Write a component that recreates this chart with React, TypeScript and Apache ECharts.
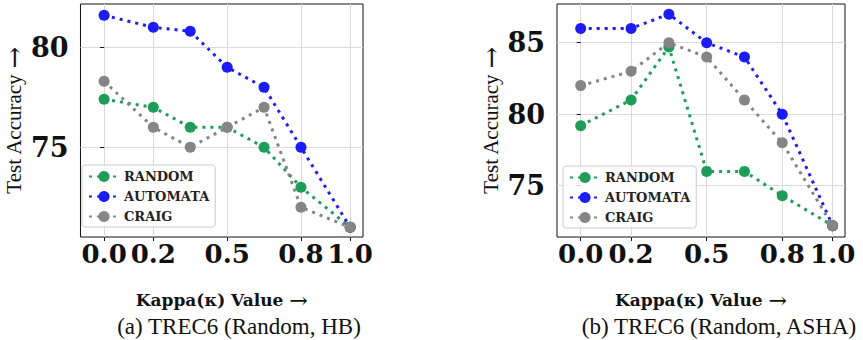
import React, { useEffect, useRef } from 'react';
import * as echarts from 'echarts';

const KAPPA = [0, 0.2, 0.35, 0.5, 0.65, 0.8, 1.0];
const X_TICKS = [0, 0.2, 0.5, 0.8, 1.0];
const SERIES_NAMES = ['RANDOM', 'AUTOMATA', 'CRAIG'];
const HB_RANDOM = [77.4, 77.0, 76.0, 76.0, 75.0, 73.0, 71.0];
const HB_AUTOMATA = [81.6, 81.0, 80.8, 79.0, 78.0, 75.0, 71.0];
const HB_CRAIG = [78.3, 76.0, 75.0, 76.0, 77.0, 72.0, 71.0];
const ASHA_RANDOM = [79.2, 81.0, 84.7, 76.0, 76.0, 74.3, 72.2];
const ASHA_AUTOMATA = [86.0, 86.0, 87.0, 85.0, 84.0, 80.0, 72.2];
const ASHA_CRAIG = [82.0, 83.0, 85.0, 84.0, 81.0, 78.0, 72.2];
const HB_Y_TICKS = [75, 80];
const ASHA_Y_TICKS = [75, 80, 85];
const CAPTIONS = ['(a) TREC6 (Random, HB)', '(b) TREC6 (Random, ASHA)'];
const X_NAME_TEXT = 'Kappa(κ) Value';
const Y_NAME_TEXT = 'Test Accuracy';
const ARROW = '→';

const COLORS = ['#1f9d58', '#1c1cf6', '#858585'];
const SERIF = '"Liberation Serif", "Times New Roman", serif';
const BOLD_SERIF = '"DejaVu Serif", serif';
const ARROW_FONT = '"DejaVu Serif", serif';

export default function App() {
  const ref = useRef<HTMLDivElement>(null);
  useEffect(() => {
    if (!ref.current) return;
    const chart = echarts.init(ref.current, null, { renderer: 'svg' });

    const panels = [
      { left: 76, width: 287, xMin: -0.096, xMax: 1.052, yMin: 70.515, yMax: 82.165, yTicks: HB_Y_TICKS, data: [HB_RANDOM, HB_AUTOMATA, HB_CRAIG], legendLeft: 82, legendTop: 165, caption: CAPTIONS[0], capX: 239 },
      { left: 557, width: 288, xMin: -0.094, xMax: 1.049, yMin: 71.41, yMax: 87.71, yTicks: ASHA_Y_TICKS, data: [ASHA_RANDOM, ASHA_AUTOMATA, ASHA_CRAIG], legendLeft: 563, legendTop: 166, caption: CAPTIONS[1], capX: 719 },
    ];

    const grid: any[] = [];
    const xAxis: any[] = [];
    const yAxis: any[] = [];
    const series: any[] = [];
    const legend: any[] = [];
    const graphic: any[] = [];

    panels.forEach((p, i) => {
      grid.push({ left: p.left, top: 4, width: p.width, height: 233, show: true, borderColor: '#111', borderWidth: 1, backgroundColor: 'transparent' });
      xAxis.push({
        type: 'value', gridIndex: i, min: p.xMin, max: p.xMax,
        name: `{t|${X_NAME_TEXT} }{a|${ARROW}}`, nameLocation: 'middle', nameGap: 52,
        nameTextStyle: {
          color: '#111',
          rich: {
            t: { fontFamily: BOLD_SERIF, fontWeight: 'bold', fontSize: 17, color: '#111' },
            a: { fontFamily: ARROW_FONT, fontSize: 22, color: '#111' },
          },
        },
        axisLine: { show: false },
        axisTick: { show: true, length: 4, customValues: X_TICKS, lineStyle: { color: '#111' } },
        axisLabel: { customValues: X_TICKS, formatter: (v: number) => v.toFixed(1), fontFamily: BOLD_SERIF, fontWeight: 'bold', fontSize: 26, color: '#111', margin: 4 },
        splitLine: { show: true, lineStyle: { color: '#dadada', width: 1 } },
      });
      yAxis.push({
        type: 'value', gridIndex: i, min: p.yMin, max: p.yMax,
        name: `{t|${Y_NAME_TEXT} }{a|${ARROW}}`, nameLocation: 'middle', nameGap: 52,
        nameTextStyle: {
          color: '#111',
          rich: {
            t: { fontFamily: SERIF, fontSize: 21, color: '#111' },
            a: { fontFamily: ARROW_FONT, fontSize: 26, color: '#111' },
          },
        },
        axisLine: { show: false },
        axisTick: { show: true, length: 4, customValues: p.yTicks, lineStyle: { color: '#111' } },
        axisLabel: { customValues: p.yTicks, fontFamily: BOLD_SERIF, fontWeight: 'bold', fontSize: 27, color: '#111', margin: 12 },
        splitLine: { show: true, lineStyle: { color: '#dadada', width: 1 } },
      });
      SERIES_NAMES.forEach((name, k) => {
        series.push({
          type: 'line', name, xAxisIndex: i, yAxisIndex: i,
          data: KAPPA.map((x, j) => [x, p.data[k][j]]),
          symbol: 'circle', symbolSize: 11,
          itemStyle: { color: COLORS[k] },
          lineStyle: { color: COLORS[k], width: 3, type: [3, 5] },
          z: 2 + k,
        });
      });
      legend.push({
        left: p.legendLeft, top: p.legendTop, orient: 'vertical',
        data: SERIES_NAMES,
        itemWidth: 30, itemHeight: 14, itemGap: 7,
        padding: [5, 6, 4, 6],
        backgroundColor: 'rgba(255,255,255,0.8)', borderColor: '#cccccc', borderWidth: 1, borderRadius: 3,
        textStyle: { fontFamily: BOLD_SERIF, fontWeight: 'bold', fontSize: 13, color: '#222' },
        selectedMode: false,
      });
      graphic.push({
        type: 'text', x: p.capX, y: 326,
        style: { text: p.caption, fontFamily: SERIF, fontSize: 23, fill: '#111', textAlign: 'center', textVerticalAlign: 'middle' },
      });
    });

    chart.setOption({
      animation: false,
      backgroundColor: '#ffffff',
      grid, xAxis, yAxis, series, legend, graphic,
    });
    return () => chart.dispose();
  }, []);
  return <div ref={ref} style={{ position: 'fixed', left: 0, top: 0, width: 863, height: 340 }} />;
}
